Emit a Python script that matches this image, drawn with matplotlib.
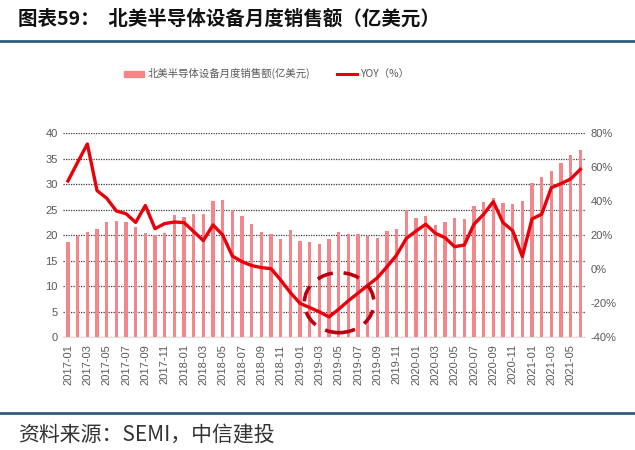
import matplotlib
matplotlib.use("Agg")
import matplotlib.pyplot as plt
from matplotlib.patches import Ellipse
from matplotlib.lines import Line2D
import numpy as np

plt.rcParams['font.family'] = ['Noto Sans CJK SC', 'DejaVu Sans']

months = [f"{y}-{m:02d}" for y in range(2017, 2022) for m in range(1, 13)][:54]

sales = [18.6, 19.8, 20.7, 21.3, 22.6, 22.9, 22.6, 21.7, 20.5, 20.1, 20.5, 24.0,
         23.6, 24.1, 24.2, 26.8, 26.9, 24.9, 23.7, 22.2, 20.7, 20.3, 19.3, 21.0,
         18.9, 18.6, 18.2, 19.2, 20.6, 20.3, 20.3, 19.9, 19.5, 20.8, 21.2, 25.0,
         23.3, 23.7, 22.1, 22.7, 23.4, 23.1, 25.7, 26.5, 27.3, 26.4, 26.1, 26.7,
         30.3, 31.4, 32.6, 34.2, 35.8, 36.7]

yoy = [52.0, 63.0, 73.7, 46.3, 41.8, 34.3, 32.7, 27.6, 37.5, 23.9, 26.9, 27.8,
       27.5, 22.2, 16.9, 26.1, 20.2, 7.8, 4.5, 2.2, 1.0, 0.4, -6.3, -13.7,
       -20.0, -22.5, -25.0, -28.0, -23.5, -18.5, -14.0, -9.5, -5.0, 1.5, 8.4, 18.2,
       22.5, 26.5, 21.2, 18.6, 13.3, 14.3, 26.5, 32.4, 39.8, 27.5, 22.7, 7.5,
       29.6, 32.4, 48.0, 50.4, 53.1, 58.8]

left_ticks = [0, 5, 10, 15, 20, 25, 30, 35, 40]
right_ticks = [-40, -20, 0, 20, 40, 60, 80]

bar_label = "北美半导体设备月度销售额(亿美元)"
line_label = "YOY（%）"

BAR_COLOR = "#F4868B"
LINE_COLOR = "#E8000B"
TICK_COLOR = "#595959"
RULE_COLOR = "#2F5D7C"

fig = plt.figure(figsize=(6.35, 4.5), dpi=100)
ax = fig.add_axes([0.0995, 0.2504, 0.822, 0.4534])
ax2 = ax.twinx()

x = np.arange(len(months))
ax.bar(x, sales, width=0.34, color=BAR_COLOR, zorder=2)
ax.set_ylim(0, 40)
ax.set_xlim(-0.5, len(months) - 0.5)
ax.set_yticks(left_ticks)
ax.yaxis.grid(True, linestyle=(0, (1, 1)), color="#3a3a3a", linewidth=0.9, zorder=0)
ax.set_axisbelow(True)

ax2.plot(x, yoy, color=LINE_COLOR, linewidth=2.4, zorder=3)
ax2.set_ylim(-40, 80)
ax2.set_yticks(right_ticks)
ax2.set_yticklabels([f"{v}%" for v in right_ticks])

# dashed highlight ellipse around the trough
trough = int(np.argmin(yoy))
ell = Ellipse((trough + 1.05, -19.6), width=7.2, height=35.3, fill=False,
              edgecolor="#B80010", linewidth=2.6, linestyle=(0, (4.5, 3)), zorder=4)
ax2.add_patch(ell)

ax.set_xticks(x[::2])
ax.set_xticklabels(months[::2], rotation=90, fontsize=7.5, color=TICK_COLOR,
                   fontfamily='Liberation Sans')
for a in (ax, ax2):
    for s in a.spines.values():
        s.set_visible(False)
    a.tick_params(axis='both', length=0, labelsize=8, labelcolor=TICK_COLOR, pad=4)
for lbl in ax.get_yticklabels() + ax2.get_yticklabels():
    lbl.set_fontfamily('Liberation Sans')
ax.tick_params(axis='x', pad=5)
ax.spines['bottom'].set_visible(True)
ax.spines['bottom'].set_color("#E0E0E0")

# legend
handles = [plt.Rectangle((0, 0), 1, 1, color=BAR_COLOR),
           Line2D([0], [0], color=LINE_COLOR, linewidth=2.2)]
leg = fig.legend(handles, [bar_label, line_label], loc='center',
                 bbox_to_anchor=(0.42, 0.836), ncol=2, frameon=False,
                 fontsize=7.5, handlelength=1.9, handleheight=0.5,
                 columnspacing=2.6, handletextpad=0.35)
for t in leg.get_texts():
    t.set_color(TICK_COLOR)

# title and rules
fig.text(0.028, 0.958, "图表59：  北美半导体设备月度销售额（亿美元）",
         fontsize=14, fontweight='heavy', color="#111111", va='center', ha='left')
fig.add_artist(Line2D([0, 1], [1 - 40.5 / 450, 1 - 40.5 / 450], color=RULE_COLOR,
                      linewidth=2.0, transform=fig.transFigure))
fig.add_artist(Line2D([0, 1], [1 - 412.7 / 450, 1 - 412.7 / 450], color=RULE_COLOR,
                      linewidth=2.0, transform=fig.transFigure))
fig.text(0.028, 1 - 435.5 / 450, "资料来源：SEMI，中信建投", fontsize=15,
         style='italic', color="#333333", va='center', ha='left')

fig.savefig("out.png", dpi=100)
